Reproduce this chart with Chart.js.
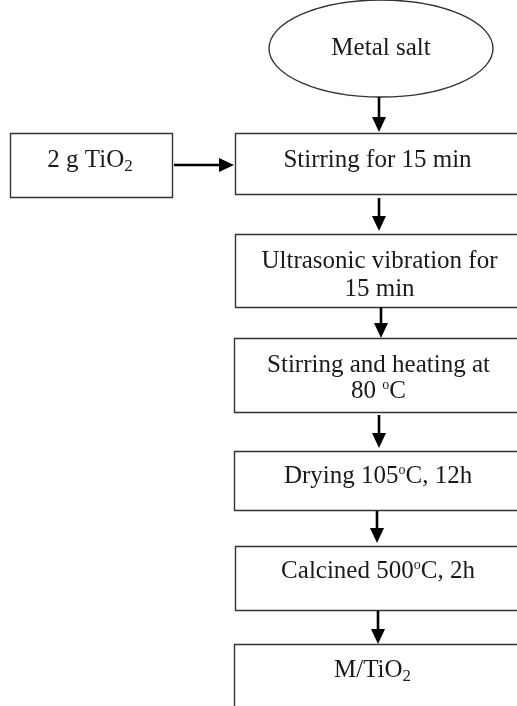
<!DOCTYPE html>
<html>
<head>
<meta charset="utf-8">
<script src="https://cdn.jsdelivr.net/npm/chart.js@4.4.1/dist/chart.umd.min.js"></script>
<style>
  html, body { margin: 0; padding: 0; background: #fff; }
  #wrap { width: 517px; height: 706px; }
</style>
</head>
<body>
<div id="wrap"><canvas id="flow" width="517" height="706"></canvas></div>
<script>
// Тексты шагов (^{..} — верхний индекс, _{..} — нижний)
const stepLabels = [
  ["Metal salt"],
  ["2 g TiO_{2}"],
  ["Stirring for 15 min"],
  ["Ultrasonic vibration for", "15 min"],
  ["Stirring and heating at", "80 ^{o}C"],
  ["Drying 105^{o}C, 12h"],
  ["Calcined 500^{o}C, 2h"],
  ["M/TiO_{2}"],
];
const stepShapes = ["ellipse", "box", "box", "box", "box", "box", "box", "box"];

// Координаты фигур в единицах осей (x 0..517, y 0..706 сверху вниз)
const shapeX1 = [269, 10, 235, 235, 234, 234, 235, 234];
const shapeX2 = [493, 172, 540, 540, 540, 540, 540, 540];
const shapeY1 = [0, 133, 133, 234, 338, 451, 546, 644];
const shapeY2 = [97, 197, 194, 307, 412, 510, 610, 740];
// центр строки по x и базовая линия по y
const textX = [381, 90, 377.5, 379.5, 378.5, 378, 378, 372.5];
const textY = [[55], [167], [167], [268, 296], [372, 398], [483], [578], [677]];

// Стрелки: [x1, y1, x2, y2]
const arrows = [
  [379, 97, 379, 132],
  [174, 165, 234, 165],
  [379, 198, 379, 231],
  [381, 307, 381, 338],
  [379, 415, 379, 448],
  [377, 511, 377, 543],
  [378, 611, 378, 644],
];

const fontSize = 25;
const fontFamily = "'Liberation Serif', 'Times New Roman', serif";

// Разбор строки на куски с индексами
function parseRich(str) {
  const parts = [];
  const re = /([_^])\{([^}]*)\}/g;
  let last = 0, m;
  while ((m = re.exec(str)) !== null) {
    if (m.index > last) parts.push({ t: str.slice(last, m.index), k: "" });
    parts.push({ t: m[2], k: m[1] === "^" ? "sup" : "sub" });
    last = re.lastIndex;
  }
  if (last < str.length) parts.push({ t: str.slice(last), k: "" });
  return parts;
}

function drawRich(ctx, str, cx, baseY) {
  const parts = parseRich(str);
  let total = 0;
  parts.forEach((p) => {
    p.size = p.k === "sup" ? 14 : p.k === "sub" ? 17 : fontSize;
    ctx.font = p.size + "px " + fontFamily;
    p.w = ctx.measureText(p.t).width;
    total += p.w;
  });
  let x = cx - total / 2;
  parts.forEach((p) => {
    ctx.font = p.size + "px " + fontFamily;
    let dy = 0;
    if (p.k === "sup") dy = -9;
    if (p.k === "sub") dy = 4;
    ctx.fillText(p.t, x, baseY + dy);
    x += p.w;
  });
}

const flowPlugin = {
  id: "flowPlugin",
  afterDraw(chart) {
    const ctx = chart.ctx;
    const xs = chart.scales.x;
    const ys = chart.scales.y;
    const px = (v) => xs.getPixelForValue(v);
    const py = (v) => ys.getPixelForValue(v);
    ctx.save();

    // Фигуры
    stepLabels.forEach((lines, i) => {
      const x1 = px(shapeX1[i]), x2 = px(shapeX2[i]);
      const y1 = py(shapeY1[i]), y2 = py(shapeY2[i]);
      ctx.strokeStyle = "#333";
      ctx.lineWidth = 1.4;
      ctx.beginPath();
      if (stepShapes[i] === "ellipse") {
        ctx.ellipse((x1 + x2) / 2, (y1 + y2) / 2, (x2 - x1) / 2, (y2 - y1) / 2, 0, 0, Math.PI * 2);
      } else {
        ctx.rect(Math.round(x1) + 0.5, Math.round(y1) + 0.5, Math.round(x2 - x1), Math.round(y2 - y1));
      }
      ctx.stroke();

      ctx.fillStyle = "#1a1a1a";
      ctx.textBaseline = "alphabetic";
      ctx.textAlign = "left";
      lines.forEach((line, j) => {
        drawRich(ctx, line, px(textX[i]), py(textY[i][j]));
      });
    });

    // Стрелки
    ctx.strokeStyle = "#000";
    ctx.fillStyle = "#000";
    arrows.forEach((a) => {
      const x1 = px(a[0]), y1 = py(a[1]), x2 = px(a[2]), y2 = py(a[3]);
      const ang = Math.atan2(y2 - y1, x2 - x1);
      const head = 15, half = 7;
      const bx = x2 - head * Math.cos(ang), by = y2 - head * Math.sin(ang);
      ctx.lineWidth = 2.6;
      ctx.beginPath();
      ctx.moveTo(x1, y1);
      ctx.lineTo(bx, by);
      ctx.stroke();
      ctx.beginPath();
      ctx.moveTo(x2, y2);
      ctx.lineTo(bx - half * Math.sin(ang), by + half * Math.cos(ang));
      ctx.lineTo(bx + half * Math.sin(ang), by - half * Math.cos(ang));
      ctx.closePath();
      ctx.fill();
    });

    ctx.restore();
  },
};

const ctx = document.getElementById("flow").getContext("2d");
const chart = new Chart(ctx, {
  type: "scatter",
  data: { datasets: [{ data: [], pointRadius: 0 }] },
  options: {
    responsive: false,
    animation: false,
    events: [],
    layout: { padding: 0 },
    plugins: { legend: { display: false }, tooltip: { enabled: false } },
    scales: {
      x: { type: "linear", min: 0, max: 517, display: false },
      y: { type: "linear", min: 0, max: 706, reverse: true, display: false },
    },
  },
  plugins: [flowPlugin],
});
</script>
</body>
</html>
